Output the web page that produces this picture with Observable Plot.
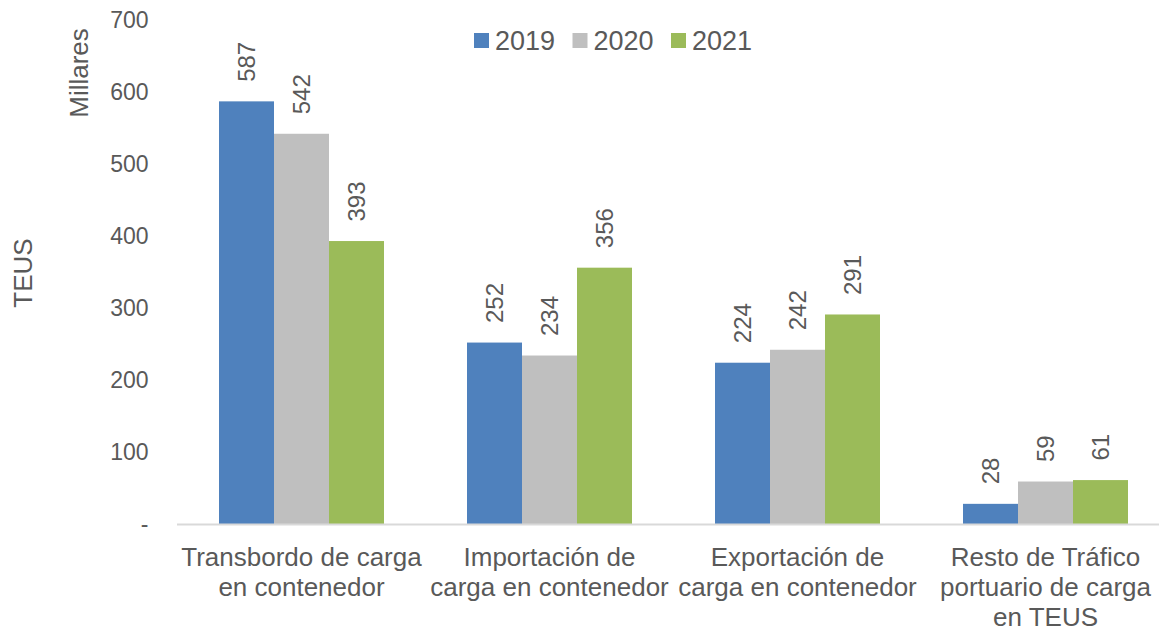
<!DOCTYPE html>
<html>
<head>
<meta charset="utf-8">
<script src="https://cdn.jsdelivr.net/npm/d3@7"></script>
<script src="https://cdn.jsdelivr.net/npm/@observablehq/plot@0.6"></script>
<style>
  html, body { margin: 0; padding: 0; background: #fff; }
  #chart { position: relative; width: 1159px; height: 631px; overflow: hidden; }
</style>
</head>
<body>
<div id="chart"></div>
<script>
const categories = [
  "Transbordo de carga\nen contenedor",
  "Importación de\ncarga en contenedor",
  "Exportación de\ncarga en contenedor",
  "Resto de Tráfico\nportuario de carga\nen TEUS"
];
const years = ["2019", "2020", "2021"];
const colors = ["#4F81BD", "#BFBFBF", "#9BBB59"];
const values2019 = [587, 252, 224, 28];
const values2020 = [542, 234, 242, 59];
const values2021 = [393, 356, 291, 61];
const yTicks = [0, 100, 200, 300, 400, 500, 600, 700];

const series = [values2019, values2020, values2021];
const data = [];
categories.forEach((c, i) => {
  years.forEach((yr, j) => data.push({category: c, year: yr, value: series[j][i]}));
});

const textColor = "#595959";
const font = "'Liberation Sans', Arial, sans-serif";

const plot = Plot.plot({
  width: 1159,
  height: 631,
  marginLeft: 177,
  marginRight: 0,
  marginTop: 20,
  marginBottom: 107,
  style: {fontFamily: font, color: textColor, background: "#fff", overflow: "visible"},
  fx: {domain: categories, range: [177, 1169], padding: 0, axis: null},
  x: {domain: years, paddingInner: 0, paddingOuter: 0.73, axis: null},
  y: {domain: [0, 700], axis: null},
  color: {domain: years, range: colors},
  marks: [
    Plot.axisY({ticks: yTicks, tickSize: 0, tickPadding: 29, fontSize: 23,
      tickFormat: d => d === 0 ? "-" : d, label: null}),
    Plot.barY(data, {fx: "category", x: "year", y: "value", fill: "year"}),
    Plot.ruleY([0], {stroke: "#D9D9D9", strokeWidth: 2}),
    Plot.text(data, {fx: "category", x: "year", y: "value", text: d => String(d.value),
      rotate: -90, textAnchor: "start", dy: -20, fontSize: 24, fill: textColor}),
    Plot.axisFx({anchor: "bottom", tickSize: 0, tickPadding: 20, fontSize: 26,
      lineHeight: 1.15, label: null})
  ]
});

document.getElementById("chart").appendChild(plot);

const svg = d3.select(plot);
// axis titles
svg.append("text")
  .attr("transform", "translate(88,73) rotate(-90)")
  .attr("text-anchor", "middle")
  .attr("font-size", 26).attr("font-family", font).attr("fill", textColor)
  .text("Millares");
svg.append("text")
  .attr("transform", "translate(32,273) rotate(-90)")
  .attr("text-anchor", "middle")
  .attr("font-size", 26).attr("font-family", font).attr("fill", textColor)
  .text("TEUS");

// legend
const lg = svg.append("g").attr("transform", "translate(474,33)");
years.forEach((yr, i) => {
  const g = lg.append("g").attr("transform", `translate(${i * 98.5},0)`);
  g.append("rect").attr("width", 15).attr("height", 15).attr("fill", colors[i]);
  g.append("text").attr("x", 21).attr("y", 17)
    .attr("text-anchor", "start")
    .attr("font-size", 27).attr("font-family", font).attr("fill", textColor)
    .text(yr);
});
</script>
</body>
</html>
